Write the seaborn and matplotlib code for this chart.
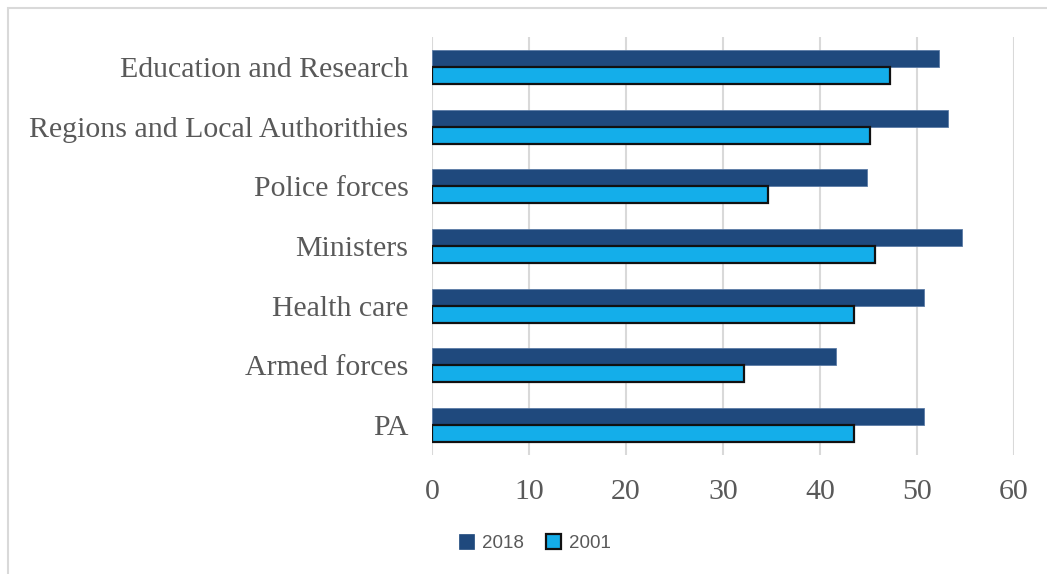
import matplotlib
matplotlib.use("Agg")
import matplotlib.pyplot as plt
import seaborn as sns
import pandas as pd
from matplotlib.patches import Rectangle, Patch

categories = ["Education and Research", "Regions and Local Authorithies", "Police forces",
              "Ministers", "Health care", "Armed forces", "PA"]
values_2018 = [52.3, 53.2, 44.8, 54.6, 50.7, 41.7, 50.7]
values_2001 = [47.2, 45.2, 34.6, 45.7, 43.5, 32.2, 43.5]
series = ["2018", "2001"]
xticks = [0, 10, 20, 30, 40, 50, 60]

df = pd.DataFrame({
    "category": categories * 2,
    "value": values_2018 + values_2001,
    "year": ["2018"] * len(categories) + ["2001"] * len(categories),
})

sns.set_theme(style="white")
plt.rcParams['font.family'] = ['Liberation Serif', 'DejaVu Serif']

c2018 = "#1F497D"
c2001 = "#14AEEA"
txt = "#595959"

fig = plt.figure(figsize=(10.47, 5.74), dpi=100)
ax = fig.add_axes([432/1047, 1 - 455/574, (1014-432)/1047, (455-37)/574])

sns.barplot(data=df, y="category", x="value", hue="year", order=categories,
            hue_order=series, palette=[c2018, c2001], orient="h",
            width=0.57, dodge=True, ax=ax, legend=False, saturation=1)

for cont, ec, lw in zip(ax.containers, ["#5B7BA6", "#111111"], [0.6, 1.6]):
    for bar in cont:
        bar.set_edgecolor(ec)
        bar.set_linewidth(lw)

ax.set_xlim(0, 60)
ax.set_xticks(xticks)
ax.set_xticklabels([str(t) for t in xticks])
ax.set_xlabel("")
ax.set_ylabel("")
ax.grid(axis="x", color="#D9D9D9", linewidth=1.5)
ax.set_axisbelow(True)
for s in ax.spines.values():
    s.set_visible(False)
ax.tick_params(axis="x", labelsize=21.5, colors=txt, length=0, pad=17)
ax.tick_params(axis="y", labelsize=21.5, colors=txt, length=0, pad=17)

handles = [Patch(facecolor=c2018, edgecolor=c2018, linewidth=0.5),
           Patch(facecolor=c2001, edgecolor="#111111", linewidth=1.6)]
fig.legend(handles, series, loc="center", bbox_to_anchor=(535/1047, 1 - 543/574),
           ncol=2, frameon=False, prop={"family": "Liberation Sans", "size": 13.5},
           labelcolor=txt, handlelength=0.8, handleheight=0.8, handletextpad=0.4,
           columnspacing=1.2)

fig.patches.append(Rectangle((8/1047, -0.1), 1.2, 1.1 - 8/574, transform=fig.transFigure,
                             fill=False, edgecolor="#D9D9D9", linewidth=1.5))

fig.savefig("out.png", dpi=100)
